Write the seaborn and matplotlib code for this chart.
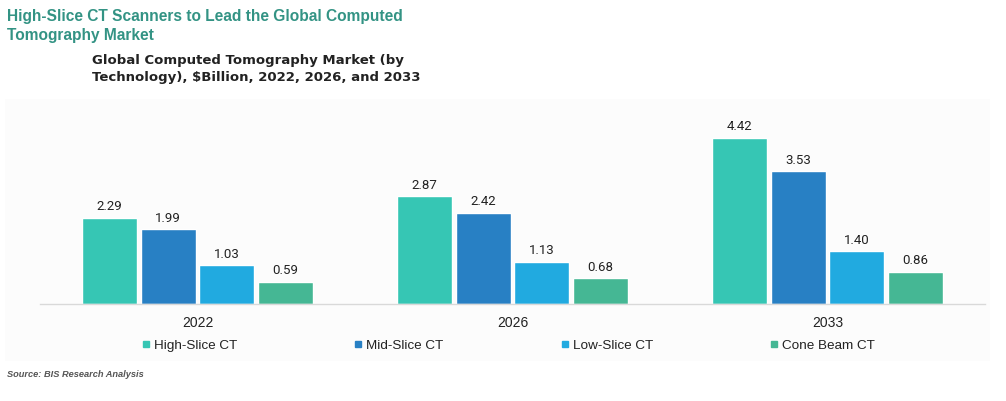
import matplotlib
matplotlib.use("Agg")
import matplotlib.pyplot as plt
import seaborn as sns
import pandas as pd
from matplotlib.patches import Rectangle
from matplotlib.lines import Line2D

years = ["2022", "2026", "2033"]
technologies = ["High-Slice CT", "Mid-Slice CT", "Low-Slice CT", "Cone Beam CT"]
high_slice = [2.29, 2.87, 4.42]
mid_slice = [1.99, 2.42, 3.53]
low_slice = [1.03, 1.13, 1.40]
cone_beam = [0.59, 0.68, 0.86]
colors = ["#36C6B4", "#2880C4", "#21AAE0", "#45B794"]

series = [high_slice, mid_slice, low_slice, cone_beam]
rows = []
for tech, vals in zip(technologies, series):
    for y, v in zip(years, vals):
        rows.append({"Year": y, "Technology": tech, "Value": v})
df = pd.DataFrame(rows)

sns.set_theme(style="white")
plt.rcParams["font.family"] = ["Liberation Sans", "DejaVu Sans"]

fig = plt.figure(figsize=(10.06, 4.02), dpi=100)
fig.patch.set_facecolor("white")
# faint chart-area background
bg = Rectangle((5/1006, 1-362/402), 985/1006, 262/402,
               transform=fig.transFigure, facecolor="#fcfcfc",
               edgecolor="none", zorder=-10)
fig.add_artist(bg)

ax = fig.add_axes([40/1006, 1-305/402, 945/1006, 188/402])
ax.set_zorder(5)
ax.set_facecolor("none")
sns.barplot(data=df, x="Year", y="Value", hue="Technology", order=years,
            hue_order=technologies, palette=colors, width=0.743, gap=0.06,
            saturation=1, ax=ax, legend=False, errorbar=None)
ax.set_ylim(0, 5)
ax.set_xlim(-0.5, 2.5)
for c in ax.containers:
    ax.bar_label(c, fmt="%.2f", padding=4, fontsize=9.5, color="#222222",
                 family=["Roboto", "DejaVu Sans"])

for s in ["top", "right", "left"]:
    ax.spines[s].set_visible(False)
ax.spines["bottom"].set_color("#d9d9d9")
ax.spines["bottom"].set_linewidth(1)
ax.set_yticks([])
ax.set_xlabel("")
ax.set_ylabel("")
ax.tick_params(axis="x", length=0, labelsize=10, labelcolor="#222222", pad=8)
# category separators
ax.set_xticks([-0.5, 0.5, 1.5, 2.5], minor=True)
ax.tick_params(axis="x", which="minor", length=4, color="#d9d9d9", width=1, direction="out")

# legend: one entry per column, evenly placed
legend_x = [143, 355, 562, 771]
for xpx, c, lab in zip(legend_x, colors, technologies):
    h = Line2D([0], [0], marker="s", linestyle="none", markersize=5,
               markerfacecolor=c, markeredgecolor=c)
    leg = fig.legend([h], [lab], loc="center left",
                     bbox_to_anchor=(xpx/1006, 1-346/402),
                     frameon=False, fontsize=9.7, handlelength=0.5,
                     handletextpad=0.35, borderpad=0, borderaxespad=0,
                     labelcolor="#222222")

fig.text(7/1006, 1-9/402, "High-Slice CT Scanners to Lead the Global Computed\nTomography Market",
         ha="left", va="top", fontsize=11.2, fontweight="bold", color="#339384",
         linespacing=1.35)
fig.text(92/1006, 1-54/402, "Global Computed Tomography Market (by\nTechnology), $Billion, 2022, 2026, and 2033",
         ha="left", va="top", fontsize=9.5, fontweight="bold", color="#222222",
         family=["DejaVu Sans"], linespacing=1.45)
fig.text(7/1006, 1-375/402, "Source: BIS Research Analysis", ha="left", va="center",
         fontsize=6.7, fontweight="bold", fontstyle="italic", color="#555555")

fig.savefig("out.png", dpi=100)
